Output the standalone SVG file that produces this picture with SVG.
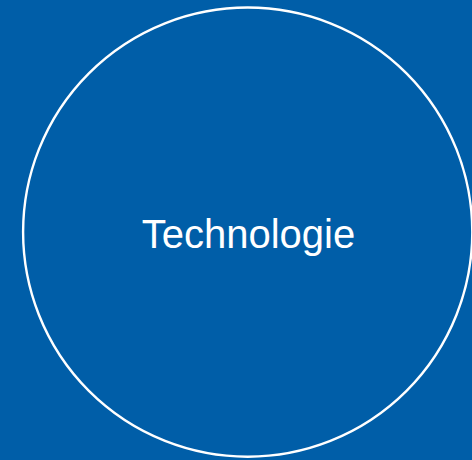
<svg xmlns="http://www.w3.org/2000/svg" width="472" height="460" viewBox="0 0 472 460">
<style>
.bg{fill:#005ea8}
.ring{fill:none;stroke:#ffffff;stroke-width:2.4}
.lbl{font-family:"Liberation Sans",Arial,sans-serif;font-size:40px;fill:#ffffff;text-anchor:middle}
</style>
<rect class="bg" x="0" y="0" width="472" height="460"/>
<g id="node-technologie">
<circle class="ring" cx="247.7" cy="232.1" r="224.6"/>
<text class="lbl" x="248.5" y="248">Technologie</text>
</g>
<g id="connectors"/>
</svg>
